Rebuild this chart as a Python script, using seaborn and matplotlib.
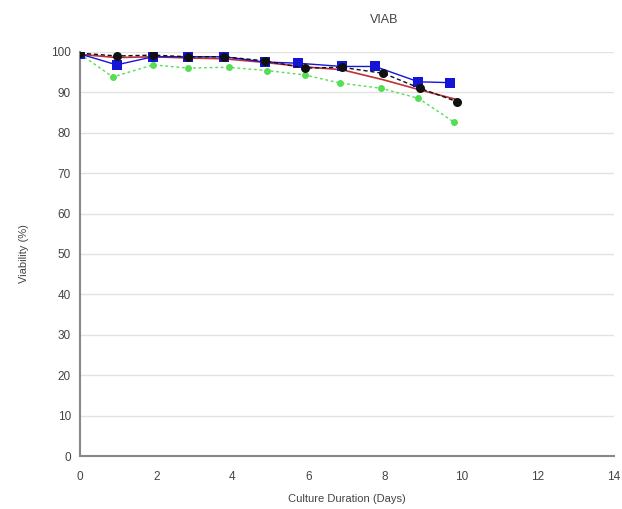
import numpy as np
import pandas as pd
import matplotlib
matplotlib.use("Agg")
import matplotlib.pyplot as plt
import seaborn as sns

# Viability time course per culture (days, % viable)
days_blue = [0, 0.96, 1.92, 2.84, 3.78, 4.85, 5.73, 6.87, 7.74, 8.88, 9.71]
viab_blue = [99.5, 96.8, 98.8, 98.8, 98.8, 97.5, 97.2, 96.4, 96.4, 92.6, 92.4]

days_black = [0, 0.96, 1.92, 2.84, 3.78, 4.85, 5.9, 6.87, 7.96, 8.92, 9.89]
viab_black = [99.7, 99.0, 99.2, 98.8, 98.8, 97.8, 96.0, 96.2, 94.7, 91.0, 87.7]

days_red = [0, 0.96, 1.92, 2.84, 3.78, 4.85, 5.9, 6.87, 7.96, 8.92, 9.89]
viab_red = [99.4, 98.6, 98.8, 98.5, 98.3, 97.4, 96.3, 95.6, 93.1, 90.6, 88.2]

days_green = [0, 0.86, 1.92, 2.84, 3.9, 4.9, 5.9, 6.82, 7.9, 8.88, 9.8]
viab_green = [99.5, 93.8, 96.8, 96.0, 96.2, 95.4, 94.3, 92.3, 91.0, 88.5, 82.7]

x_ticks = [0, 2, 4, 6, 8, 10, 12, 14]
y_ticks = [0, 10, 20, 30, 40, 50, 60, 70, 80, 90, 100]

frames = []
for name, d, v in [("green", days_green, viab_green),
                   ("red", days_red, viab_red),
                   ("blue", days_blue, viab_blue),
                   ("black", days_black, viab_black)]:
    frames.append(pd.DataFrame({"day": d, "viability": v, "culture": name}))
df = pd.concat(frames, ignore_index=True)

sns.set_style("white")
plt.rcParams["font.family"] = ["Liberation Sans", "DejaVu Sans"]

fig = plt.figure(figsize=(6.22, 5.09), dpi=100)
ax = fig.add_axes([0.1286, 0.104, 0.858, 0.794])

styles = {
    "green": dict(color="#55dd55", marker="o", markersize=5, linestyle=(0, (2, 2)), linewidth=1.0),
    "red": dict(color="#c0303a", marker=None, markersize=0, linestyle="-", linewidth=1.2),
    "blue": dict(color="#1515d8", marker="s", markersize=6.5, linestyle="-", linewidth=1.0),
    "black": dict(color="#101010", marker="o", markersize=6.5, linestyle=(0, (3, 2)), linewidth=1.0),
}
for name, st in styles.items():
    sub = df[df["culture"] == name]
    sns.lineplot(data=sub, x="day", y="viability", ax=ax, estimator=None,
                 sort=False, color=st["color"], marker=st["marker"],
                 markersize=st["markersize"], markeredgewidth=0,
                 linestyle=st["linestyle"], linewidth=st["linewidth"],
                 legend=False, zorder=3)

ax.set_xlim(0, 14)
ax.set_ylim(0, 100)
ax.set_xticks(x_ticks)
ax.set_yticks(y_ticks)
ax.set_xticklabels([str(t) for t in x_ticks])
ax.set_yticklabels([str(t) for t in y_ticks])
ax.yaxis.grid(True, color="#e2e2e2", linewidth=1.0)
ax.xaxis.grid(False)
ax.set_axisbelow(True)

for side in ["top", "right"]:
    ax.spines[side].set_visible(False)
for side in ["left", "bottom"]:
    ax.spines[side].set_color("#888888")
    ax.spines[side].set_linewidth(1.5)

ax.tick_params(axis="both", which="major", labelsize=8.5, colors="#555555",
               direction="out", length=3, width=1, labelcolor="#444444")
ax.tick_params(axis="x", pad=8)

ax.set_xlabel("Culture Duration (Days)", fontsize=8, color="#444444", labelpad=8)
ax.set_ylabel("Viability (%)", fontsize=8, color="#444444", labelpad=16)
ax.set_title("VIAB", fontsize=9, color="#444444", x=0.57, pad=21)

fig.savefig("out.png", dpi=100, facecolor="white")
